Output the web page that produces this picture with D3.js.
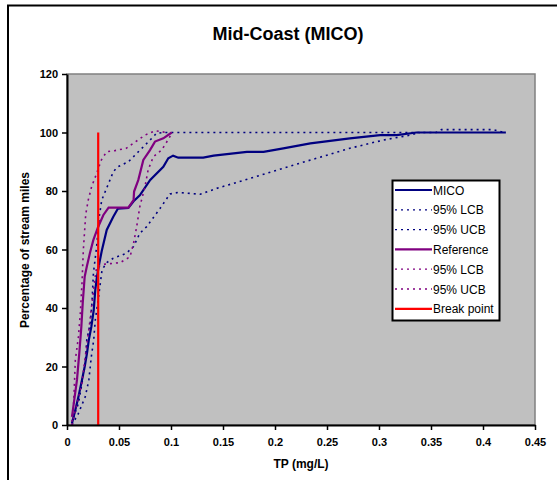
<!DOCTYPE html>
<html><head><meta charset="utf-8">
<script src="https://cdn.jsdelivr.net/npm/d3@7"></script>
<style>body{margin:0;background:#fff}svg{display:block;font-family:"Liberation Sans",Arial,sans-serif}</style>
</head><body>
<svg id="c" width="557" height="480"></svg>
<script>
const title = "Mid-Coast (MICO)";
const xLabel = "TP (mg/L)";
const yLabel = "Percentage of stream miles";
const xTicks = [0,0.05,0.1,0.15,0.2,0.25,0.3,0.35,0.4,0.45];
const yTicks = [0,20,40,60,80,100,120];
const seriesNames = ["MICO","95% LCB","95% UCB","Reference","95% LCB","95% UCB","Break point"];

const mico = [[0.0048,0.6],[0.008,5.1],[0.011,9.7],[0.0144,15.4],[0.017,19.9],[0.0192,24.5],[0.021,29.1],[0.0234,33.6],[0.0257,39.3],[0.0272,46.2],[0.0288,50.7],[0.0312,55.5],[0.0334,59.5],[0.0382,66.7],[0.0445,71.2],[0.049,74],[0.059,74.2],[0.064,76.5],[0.070,78.5],[0.080,83.8],[0.0926,88.3],[0.0974,91.2],[0.102,92.1],[0.107,91.4],[0.131,91.4],[0.141,92.1],[0.173,93.4],[0.189,93.4],[0.208,94.6],[0.234,96.3],[0.272,98.0],[0.301,99.1],[0.317,99.1],[0.336,100],[0.422,100]];
const micoLCB = [[0.0048,0],[0.011,4],[0.0176,9.7],[0.021,15.4],[0.0234,23.4],[0.0257,29.1],[0.0272,35.9],[0.0304,43.9],[0.032,48.4],[0.0337,53],[0.038,55.5],[0.0445,57],[0.057,58.7],[0.064,61],[0.070,65.5],[0.0766,67.8],[0.0894,74],[0.099,79],[0.107,79.5],[0.128,78.9],[0.144,80.9],[0.176,84.3],[0.208,87.8],[0.240,91.2],[0.272,94.6],[0.304,97.4],[0.33,99.1],[0.339,100]];
const micoUCB = [[0.0048,0.5],[0.0064,2.8],[0.011,7.4],[0.0144,14.3],[0.0176,21.1],[0.019,29.1],[0.0224,34.8],[0.024,41.6],[0.0254,51.9],[0.0285,61],[0.031,71.2],[0.0334,76.9],[0.040,82.6],[0.0445,86.6],[0.049,88.3],[0.059,90],[0.0686,93.4],[0.0798,97.4],[0.086,99.7],[0.092,100],[0.355,100],[0.36,101],[0.41,101],[0.415,100.5],[0.42,100]];
const refr = [[0.0048,2.8],[0.0074,9.7],[0.0096,15.4],[0.0118,24.5],[0.0138,33.6],[0.0151,41.6],[0.017,50.7],[0.019,54.1],[0.022,58.7],[0.0253,63.2],[0.030,67.8],[0.035,71.8],[0.040,74.3],[0.059,74.3],[0.064,76.9],[0.0645,79.8],[0.0686,83.8],[0.0734,90.6],[0.0798,94],[0.0846,96.9],[0.0926,98],[0.1007,100]];
const refLCB = [[0.0048,0],[0.0096,7.4],[0.0144,14.3],[0.0176,23.4],[0.021,32.5],[0.024,41.6],[0.0272,50.7],[0.0286,54.1],[0.0365,55],[0.051,55.5],[0.0606,57.5],[0.064,62.1],[0.067,67.8],[0.070,74.6],[0.075,81.5],[0.078,87.2],[0.083,91.7],[0.091,94],[0.097,97.4],[0.1007,99.7]];
const refUCB = [[0.0048,1.1],[0.0064,7.4],[0.008,22.2],[0.011,30.2],[0.0128,38.2],[0.0144,48.4],[0.0157,59.8],[0.018,72],[0.0205,77],[0.0237,81.5],[0.0285,86],[0.033,90.6],[0.038,93.4],[0.046,93.8],[0.057,94.6],[0.0686,97.5],[0.075,99.1],[0.0846,100.6],[0.096,100]];
const breakPoint = [[0.03,0],[0.03,100]];

const svg = d3.select("#c");
const x = d3.scaleLinear().domain([0,0.45]).range([67,535]);
const y = d3.scaleLinear().domain([0,120]).range([425,74]);

// outer frame
svg.append("rect").attr("x",8).attr("y",5.5).attr("width",700).attr("height",700)
  .attr("fill","#fff").attr("stroke","#000").attr("stroke-width",2);

// plot area
svg.append("rect").attr("x",x(0)).attr("y",y(120)).attr("width",x(0.45)-x(0)).attr("height",y(0)-y(120))
  .attr("fill","#C0C0C0").attr("stroke","#808080").attr("stroke-width",1.5);

svg.append("text").attr("x",288).attr("y",40).attr("text-anchor","middle")
  .attr("font-size",18).attr("font-weight","bold").text(title);

const line = d3.line().x(d=>x(d[0])).y(d=>y(d[1]));
const styles = [
  {data:mico, color:"#000080", dash:null, w:2.2},
  {data:micoLCB, color:"#000080", dash:"2,4", w:1.6},
  {data:micoUCB, color:"#000080", dash:"2,4", w:1.6},
  {data:refr, color:"#800080", dash:null, w:2.2},
  {data:refLCB, color:"#800080", dash:"2,4", w:1.6},
  {data:refUCB, color:"#800080", dash:"2,4", w:1.6},
  {data:breakPoint, color:"#FF0000", dash:null, w:2.2}
];
styles.forEach(s=>{
  svg.append("path").datum(s.data).attr("d",line).attr("fill","none")
    .attr("stroke",s.color).attr("stroke-width",s.w)
    .attr("stroke-dasharray",s.dash);
});

// axes
const xAxis = d3.axisBottom(x).tickValues(xTicks).tickSize(5).tickSizeOuter(0).tickFormat(d=>d3.format("")(+d.toFixed(2)));
const gx = svg.append("g").attr("transform",`translate(0,${y(0)})`).call(xAxis);
gx.select(".domain").attr("stroke","#000").attr("stroke-width",2);
gx.selectAll(".tick line").attr("stroke","#000").attr("stroke-width",1.5);
gx.selectAll(".tick text").attr("font-size",11).attr("font-weight","bold").attr("fill","#000")
  .attr("font-family","Liberation Sans, Arial, sans-serif").attr("dy","0.71em").attr("y",13);

const yAxis = d3.axisLeft(y).tickValues(yTicks).tickSize(5).tickSizeOuter(0);
const gy = svg.append("g").attr("transform",`translate(${x(0)},0)`).call(yAxis);
gy.select(".domain").attr("stroke","#000").attr("stroke-width",2);
gy.selectAll(".tick line").attr("stroke","#000").attr("stroke-width",1.5);
gy.selectAll(".tick text").attr("font-size",11).attr("font-weight","bold").attr("fill","#000")
  .attr("font-family","Liberation Sans, Arial, sans-serif").attr("x",-9);

svg.append("text").attr("x",301).attr("y",468).attr("text-anchor","middle")
  .attr("font-size",12).attr("font-weight","bold").text(xLabel);
svg.append("text").attr("transform","translate(29,250) rotate(-90)").attr("text-anchor","middle")
  .attr("font-size",12).attr("font-weight","bold").text(yLabel);

// legend
const lg = svg.append("g");
lg.append("rect").attr("x",392.5).attr("y",180.5).attr("width",107).attr("height",140)
  .attr("fill","#fff").attr("stroke","#000").attr("stroke-width",2);
seriesNames.forEach((n,i)=>{
  const yy = 190 + i*19.8;
  const s = styles[i];
  lg.append("line").attr("x1",395).attr("x2",432).attr("y1",yy).attr("y2",yy)
    .attr("stroke",s.color).attr("stroke-width",s.dash?1.3:2.2).attr("stroke-dasharray",s.dash?"2,4":null);
  lg.append("text").attr("x",433).attr("y",yy+4.5).attr("font-size",12).text(n);
});
</script>
</body></html>
